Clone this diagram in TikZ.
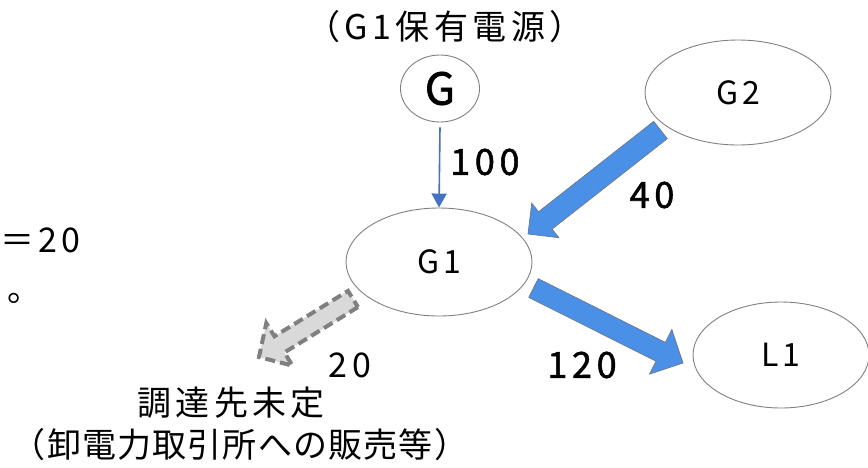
\documentclass[tikz,border=0pt]{standalone}
\usepackage{fontspec}
\setmainfont[LetterSpace=13]{Noto Sans CJK JP}
\usetikzlibrary{arrows.meta,calc,shapes.geometric}
\definecolor{flowblue}{RGB}{74,144,230}
\definecolor{flowedge}{RGB}{110,120,140}
\definecolor{thinblue}{RGB}{68,114,196}
\definecolor{edgegray}{RGB}{128,128,128}
\definecolor{ghostfill}{RGB}{217,217,217}
\tikzset{
  station/.style={ellipse, draw=edgegray, line width=0.9pt, inner sep=0pt,
    font=\fontsize{32}{36}\selectfont},
  lbl/.style={inner sep=0pt, font=\fontsize{34}{40}\selectfont},
  heavylbl/.style={inner sep=0pt, font=\fontsize{36}{40}\selectfont\addfontfeature{FakeBold=1.5}},
  bigflow/.style={fill=flowblue, draw=flowedge, line width=0.7pt, line join=miter},
  ghostflow/.style={fill=ghostfill, draw=edgegray, line width=4pt,
    dash pattern=on 10pt off 5pt, line join=miter},
  thinflow/.style={draw=thinblue, line width=1.6pt,
    -{Triangle[width=15pt,length=14pt]}}
}
% style, tail, tip, half shaft width, half head width, head length
\newcommand\flowarrow[6]{%
  \coordinate (#2-h) at ($(#3)!#6!(#2)$);
  \path[#1] ($(#2)!#4!90:(#3)$) -- ($(#2-h)!#4!-90:(#2)$)
    -- ($(#2-h)!#5!-90:(#2)$) -- (#3) -- ($(#2-h)!#5!90:(#2)$)
    -- ($(#2-h)!#4!90:(#2)$) -- ($(#2)!#4!-90:(#3)$) -- cycle;
}
\begin{document}
\begin{tikzpicture}[x=1pt,y=-1pt]
\useasboundingbox (0,0) rectangle (868,467);

% nodes
\node[station, minimum width=79pt, minimum height=67pt,
  font=\fontsize{44}{48}\selectfont\addfontfeature{FakeBold=1.5}] (G) at (440,88.5) {G};
\node[station, minimum width=186pt, minimum height=105pt] (G2) at (738,92.5) {G2};
\node[station, minimum width=186pt, minimum height=108pt] (G1) at (439,262) {G1};
\node[station, minimum width=176pt, minimum height=106pt] (L1) at (781,355) {L1};

% texts
\node[lbl] (title) at (445,27) {（G1保有電源）};
\node[heavylbl, anchor=west] (v100) at (450,162) {100};
\node[heavylbl] (v40) at (652,195) {40};
\node[heavylbl] (v120) at (582,365) {120};
\node[lbl] (v20) at (350,365) {20};
\node[lbl, anchor=west] (eqtext) at (0,240) {＝20};
\node[lbl, anchor=base west] (dottext) at (7,301) {。};
\node[lbl] (undec1) at (231,403) {調達先未定};
\node[lbl, font=\fontsize{34}{40}\selectfont\addfontfeature{LetterSpace=3.5}]
  (undec2) at (240,445) {（卸電力取引所への販売等）};

% connectors
\draw[thinflow] ([yshift=-5pt]G.south) -- (G1.north);

\coordinate (a40s) at (660.5,130);
\coordinate (a40e) at (528,234);
\flowarrow{bigflow}{a40s}{a40e}{11pt}{22pt}{22pt}

\coordinate (a120s) at (533.5,288);
\coordinate (a120e) at (683,363);
\flowarrow{bigflow}{a120s}{a120e}{10.5pt}{25pt}{25pt}

\coordinate (a20s) at (353,299);
\coordinate (a20e) at (259,357);
\flowarrow{ghostflow}{a20s}{a20e}{9.5pt}{25pt}{24pt}
\end{tikzpicture}
\end{document}
